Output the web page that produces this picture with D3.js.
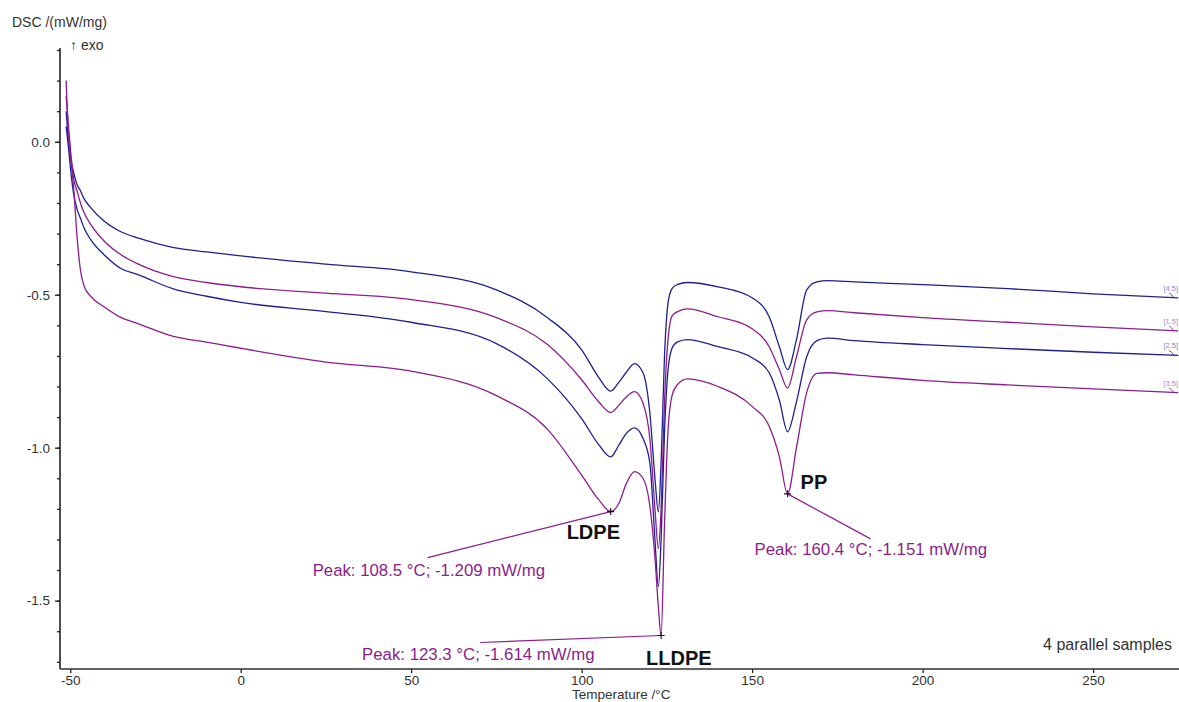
<!DOCTYPE html>
<html>
<head>
<meta charset="utf-8">
<script src="https://cdn.jsdelivr.net/npm/d3@7"></script>
<style>
  body { margin: 0; background: #fff; }
  svg text { font-family: "Liberation Sans", Arial, sans-serif; }
</style>
</head>
<body>
<svg id="chart"></svg>
<script>
// Temperature grid (°C), shared by the four runs
var temps = [-51.2, -50.5, -49.8, -49, -48, -47, -46, -44, -40, -35, -30, -20, -10, 0, 25, 50, 75, 90, 100, 105,
  108.5, 111, 113, 115.5, 118, 120, 121.5, 122.5, 123.3, 124.3, 125.3, 126.5, 128, 131, 140, 150, 155, 158,
  160.4, 163, 166, 169, 172, 180, 200, 225, 250, 275];

// DSC signal (mW/mg) of each run
var run45 = [0.10, 0.0, -0.06, -0.10, -0.14, -0.16, -0.185, -0.215, -0.26, -0.295, -0.315, -0.345, -0.36, -0.373, -0.40, -0.425, -0.484, -0.575, -0.68, -0.77,
  -0.815, -0.785, -0.755, -0.725, -0.755, -0.886, -1.10, -1.21, -1.05, -0.70, -0.53, -0.48, -0.467, -0.46, -0.474, -0.51, -0.572, -0.67,
  -0.745, -0.647, -0.484, -0.458, -0.454, -0.458, -0.467, -0.48, -0.497, -0.51];
var run15 = [0.15, 0.05, -0.04, -0.12, -0.16, -0.20, -0.23, -0.27, -0.325, -0.37, -0.40, -0.44, -0.46, -0.474, -0.495, -0.516, -0.575, -0.663, -0.778, -0.85,
  -0.885, -0.86, -0.835, -0.817, -0.855, -0.97, -1.20, -1.33, -1.20, -0.85, -0.65, -0.57, -0.556, -0.546, -0.572, -0.611, -0.67, -0.745,
  -0.805, -0.703, -0.582, -0.556, -0.552, -0.559, -0.575, -0.59, -0.605, -0.618];
var run25 = [0.05, -0.02, -0.10, -0.17, -0.22, -0.25, -0.28, -0.32, -0.37, -0.415, -0.435, -0.48, -0.505, -0.525, -0.555, -0.59, -0.66, -0.775, -0.905, -0.99,
  -1.03, -0.99, -0.955, -0.935, -0.97, -1.05, -1.30, -1.454, -1.30, -0.95, -0.75, -0.675, -0.655, -0.647, -0.67, -0.706, -0.755, -0.845,
  -0.948, -0.85, -0.703, -0.65, -0.642, -0.65, -0.663, -0.676, -0.688, -0.698];
var run35 = [0.20, 0.02, -0.06, -0.15, -0.31, -0.42, -0.47, -0.505, -0.54, -0.575, -0.595, -0.635, -0.655, -0.675, -0.72, -0.75, -0.83, -0.94, -1.09, -1.17,
  -1.209, -1.18, -1.12, -1.078, -1.10, -1.19, -1.36, -1.52, -1.614, -1.25, -0.95, -0.83, -0.795, -0.775, -0.80, -0.865, -0.93, -1.03,
  -1.151, -1.0, -0.82, -0.757, -0.755, -0.762, -0.78, -0.795, -0.808, -0.82];

var runNames = ['[4.5]', '[1.5]', '[2.5]', '[3.5]'];

// Axis ticks
var xTicks = [-50, 0, 50, 100, 150, 200, 250];
var yTicks = [0, -0.5, -1.0, -1.5];

// Peak evaluations
var peakNames = ['LDPE', 'LLDPE', 'PP'];
var peakTemps = [108.5, 123.3, 160.4];
var peakValues = [-1.209, -1.614, -1.151];

var W = 1179, H = 702;
var plotLeft = 60, plotRight = 1179, plotTop = 48, plotBottom = 669;

var svg = d3.select('#chart')
  .attr('width', W)
  .attr('height', H);

var x = d3.scaleLinear().domain([-53, 275.2]).range([plotLeft, plotRight]);
var y = d3.scaleLinear().domain([-1.7235, 0.3]).range([plotBottom, 50]);

var blue = '#1f1f92', purple = '#8c1d8c';
var colors = [blue, purple, blue, purple];
var runs = [run45, run15, run25, run35];

svg.append('clipPath').attr('id', 'plot-clip')
  .append('rect')
  .attr('x', plotLeft + 1).attr('y', plotTop - 5)
  .attr('width', plotRight - plotLeft).attr('height', plotBottom - plotTop + 4);

// curves
var line = d3.line()
  .x(function (d) { return x(d[0]); })
  .y(function (d) { return y(d[1]); })
  .curve(d3.curveMonotoneX);

var curves = svg.append('g').attr('clip-path', 'url(#plot-clip)');
runs.forEach(function (vals, i) {
  var pts = temps.map(function (t, j) { return [t, vals[j]]; });
  curves.append('path')
    .datum(pts)
    .attr('d', line)
    .attr('fill', 'none')
    .attr('stroke', colors[i])
    .attr('stroke-width', 1.3);
});

// run labels at right end
var labelColors = ['#8a86c8', '#c384c6', '#8a86c8', '#c384c6'];
runs.forEach(function (vals, i) {
  var yEnd = y(vals[vals.length - 1]);
  svg.append('text')
    .attr('x', 1178).attr('y', yEnd - 7)
    .attr('text-anchor', 'end')
    .attr('font-size', 7.5)
    .attr('fill', labelColors[i])
    .text(runNames[i]);
  svg.append('path')
    .attr('d', 'M1169,' + (yEnd - 5) + ' Q1172,' + (yEnd - 3) + ' 1174,' + yEnd)
    .attr('fill', 'none')
    .attr('stroke', colors[i])
    .attr('stroke-width', 0.8);
});

// y axis: major + minor ticks
var yMinor = d3.range(-17, 4).map(function (i) { return i / 10; });
var yAxisMinor = svg.append('g')
  .attr('transform', 'translate(' + plotLeft + ',0)')
  .call(d3.axisLeft(y).tickValues(yMinor).tickSize(3).tickFormat(''));
var yAxis = svg.append('g')
  .attr('transform', 'translate(' + plotLeft + ',0)')
  .call(d3.axisLeft(y).tickValues(yTicks).tickSize(5).tickPadding(5)
    .tickFormat(function (d) { return d.toFixed(1); }));
[yAxisMinor, yAxis].forEach(function (g) {
  g.select('.domain').remove();
  g.selectAll('line').attr('stroke', '#222').attr('stroke-width', 1.3);
});
yAxis.selectAll('text').attr('font-size', 13.5).attr('fill', '#333')
  .attr('font-family', '"Liberation Sans", Arial, sans-serif');

svg.append('line')
  .attr('x1', plotLeft).attr('x2', plotLeft)
  .attr('y1', plotTop).attr('y2', plotBottom)
  .attr('stroke', '#222').attr('stroke-width', 1.6);

// x axis
var xAxis = svg.append('g')
  .attr('transform', 'translate(0,' + plotBottom + ')')
  .call(d3.axisBottom(x).tickValues(xTicks).tickSize(4).tickPadding(2)
    .tickFormat(function (d) { return String(d); }));
xAxis.select('.domain').remove();
xAxis.selectAll('line').attr('stroke', '#222').attr('stroke-width', 1.3);
xAxis.selectAll('text').attr('font-size', 13.5).attr('fill', '#333')
  .attr('font-family', '"Liberation Sans", Arial, sans-serif');

svg.append('line')
  .attr('x1', plotLeft).attr('x2', plotRight)
  .attr('y1', plotBottom).attr('y2', plotBottom)
  .attr('stroke', '#333').attr('stroke-width', 1.6);

// axis titles
svg.append('text').attr('x', 12).attr('y', 27)
  .attr('font-size', 14).attr('fill', '#333')
  .text('DSC /(mW/mg)');
svg.append('text').attr('x', 70).attr('y', 50)
  .attr('font-size', 14).attr('fill', '#333')
  .text('\u2191 exo');
svg.append('text').attr('x', 572).attr('y', 699)
  .attr('font-size', 13.5).attr('fill', '#333')
  .text('Temperature /\u00b0C');

// peak annotations (offsets relative to peak marker)
var layout = {
  LDPE: { text: [-298, 64], lead: [-183, 46], name: [-44, 27] },
  LLDPE: { text: [-299, 24], lead: [-181, 7], name: [-15, 29] },
  PP: { text: [-33, 61], lead: [83, 45], name: [13, -5] }
};

peakNames.forEach(function (name, i) {
  var px = x(peakTemps[i]), py = y(peakValues[i]);
  var L = layout[name];
  svg.append('line')
    .attr('x1', px).attr('y1', py)
    .attr('x2', px + L.lead[0]).attr('y2', py + L.lead[1])
    .attr('stroke', purple).attr('stroke-width', 1.2);
  svg.append('path')
    .attr('d', 'M' + (px - 3.5) + ',' + py + 'H' + (px + 3.5) + 'M' + px + ',' + (py - 3.5) + 'V' + (py + 3.5))
    .attr('stroke', '#111').attr('stroke-width', 1.1);
  svg.append('text')
    .attr('x', px + L.text[0]).attr('y', py + L.text[1])
    .attr('font-size', 16.8).attr('fill', purple)
    .text('Peak: ' + peakTemps[i].toFixed(1) + ' \u00b0C; ' + peakValues[i].toFixed(3) + ' mW/mg');
  svg.append('text')
    .attr('x', px + L.name[0]).attr('y', py + L.name[1])
    .attr('font-size', 20).attr('font-weight', 'bold').attr('fill', '#111')
    .text(name);
});

svg.append('text').attr('x', 1172).attr('y', 650)
  .attr('text-anchor', 'end')
  .attr('font-size', 16).attr('fill', '#333')
  .attr('font-family', '"Open Sans", "Noto Sans", sans-serif')
  .text('4 parallel samples');
</script>
</body>
</html>
